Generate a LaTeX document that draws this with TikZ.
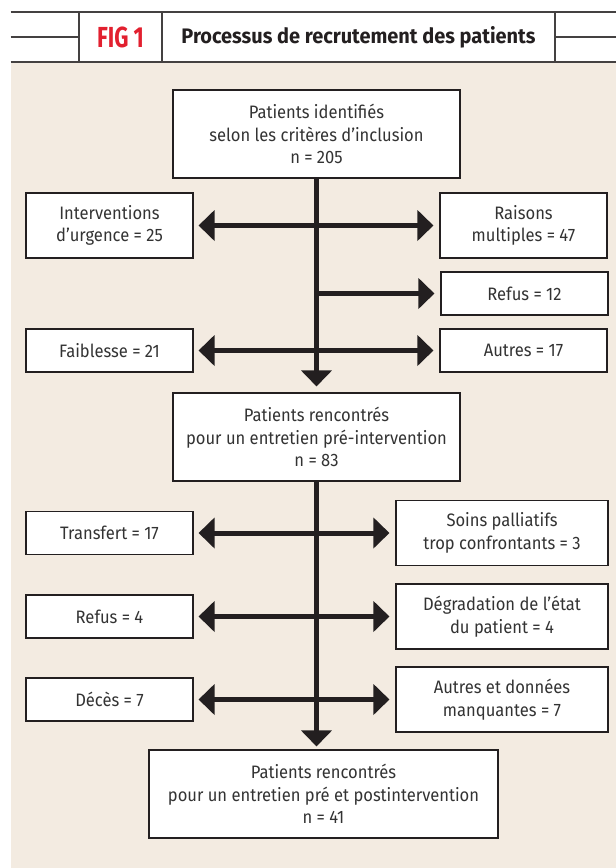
\documentclass[tikz,border=0pt]{standalone}
\usepackage{fontspec}
\setmainfont{Fira Sans}[FakeStretch=0.92]
\newfontfamily\figfont{Fira Sans}[FakeStretch=0.76]
\newfontfamily\titlefont{Fira Sans}[FakeStretch=0.95]
\usetikzlibrary{arrows.meta}
\definecolor{beige}{HTML}{F3EBE1}
\definecolor{ink}{HTML}{231F20}
\definecolor{txt}{HTML}{333333}
\definecolor{figred}{HTML}{E2202F}
\tikzset{
  box/.style={draw=ink, line width=1.1pt, fill=white, align=center, inner sep=0pt,
    text=txt, font=\fontsize{18}{22.5}\selectfont},
  hline/.style={draw=ink!85, line width=1.4pt},
  flow/.style={draw=ink, line width=5pt, arrows={-Triangle[length=16pt,width=30pt]}},
  flow2/.style={draw=ink, line width=5pt, arrows={Triangle[length=16pt,width=30pt]-Triangle[length=16pt,width=30pt]}}
}
\begin{document}
\begin{tikzpicture}[x=1pt,y=-1pt]
\useasboundingbox (0,0) rectangle (616,868);
% background
\fill[beige] (10.6,62) rectangle (616,868);
% header
\draw[hline] (10.6,12) -- (616,12);
\draw[hline] (10.6,62) -- (616,62);
\draw[hline] (79,12) -- (79,62);
\draw[hline] (162,12) -- (162,62);
\draw[hline] (555,12) -- (555,62);
\draw[hline] (10.6,37) -- (79,37);
\draw[hline] (555,37) -- (616,37);
\node[text=figred, font=\figfont\bfseries\fontsize{29}{29}\selectfont] (fig) at (120.5,37.5) {FIG 1};
\node[text=ink, font=\titlefont\bfseries\fontsize{21}{22}\selectfont] (title) at (358.5,37.5) {Processus de recrutement des patients};
% boxes
\node[box, minimum width=287pt, minimum height=88pt] (b1) at (316.5,134) {Patients identifiés\\selon les critères d’inclusion\\n = 205};
\node[box, minimum width=167pt, minimum height=65pt] (l1) at (109.5,225.5) {Interventions\\d’urgence = 25};
\node[box, minimum width=167pt, minimum height=65pt] (r1) at (523.5,225.5) {Raisons\\multiples = 47};
\node[box, minimum width=167pt, minimum height=43pt] (r2) at (524.5,293.5) {Refus = 12};
\node[box, minimum width=167pt, minimum height=43pt] (l3) at (109.5,350.5) {Faiblesse = 21};
\node[box, minimum width=167pt, minimum height=43pt] (r3) at (523.5,350.5) {Autres = 17};
\node[box, minimum width=287pt, minimum height=88pt] (b2) at (316.5,437) {Patients rencontrés\\pour un entretien pré-intervention\\n = 83};
\node[box, minimum width=167pt, minimum height=43pt] (l4) at (109.5,533) {Transfert = 17};
\node[box, minimum width=212pt, minimum height=65pt] (r4) at (502,533) {Soins palliatifs\\trop confrontants = 3};
\node[box, minimum width=167pt, minimum height=43pt] (l5) at (109.5,616.5) {Refus = 4};
\node[box, minimum width=212pt, minimum height=65pt] (r5) at (502,616.5) {Dégradation de l’état\\du patient = 4};
\node[box, minimum width=167pt, minimum height=43pt] (l6) at (109.5,699.5) {Décès = 7};
\node[box, minimum width=212pt, minimum height=65pt] (r6) at (502,699.5) {Autres et données\\manquantes = 7};
\node[box, minimum width=349pt, minimum height=88pt] (b3) at (323.5,794) {Patients rencontrés\\pour un entretien pré et postintervention\\n = 41};
% trunk
\draw[flow, shorten >=6pt] (b1.south) -- (b2.north);
\draw[flow, shorten >=3pt] (b2.south) -- (b2.south |- b3.north);
% branches
\draw[flow2, shorten <=5pt, shorten >=6pt] (l1.east) -- (r1.west);
\draw[flow, shorten >=6pt] (b1.south |- r2.west) -- (r2.west);
\draw[flow2, shorten <=5pt, shorten >=6pt] (l3.east) -- (r3.west);
\draw[flow2, shorten <=5pt, shorten >=6pt] (l4.east) -- (r4.west);
\draw[flow2, shorten <=5pt, shorten >=6pt] (l5.east) -- (r5.west);
\draw[flow2, shorten <=5pt, shorten >=6pt] (l6.east) -- (r6.west);
\end{tikzpicture}
\end{document}
